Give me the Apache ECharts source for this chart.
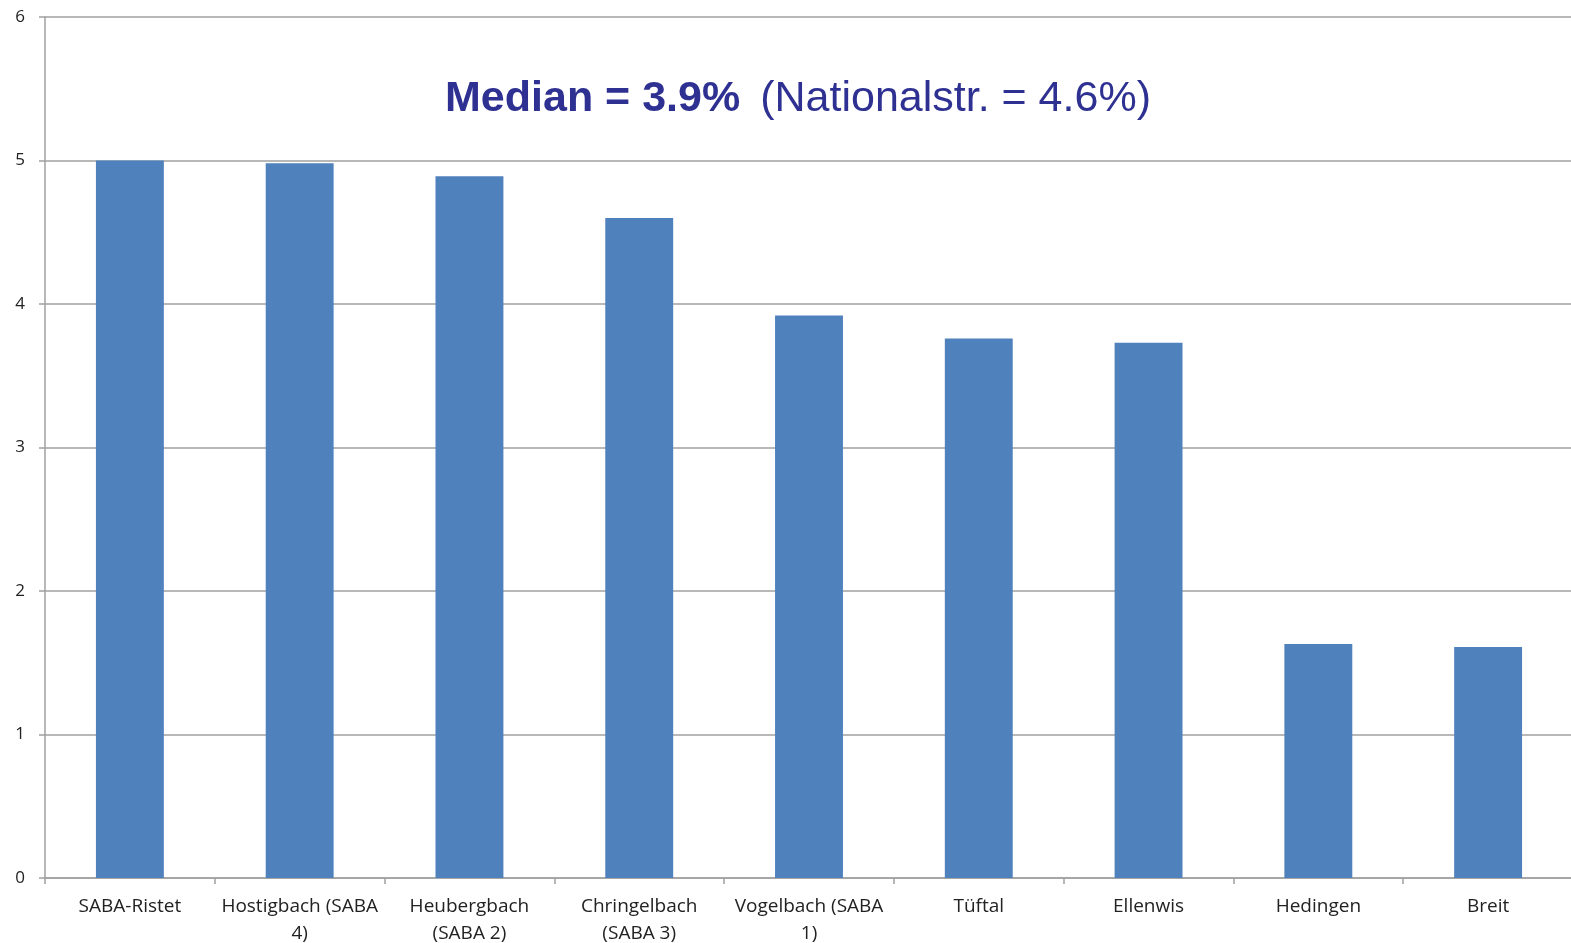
<!DOCTYPE html>
<html>
<head>
<meta charset="utf-8">
<script src="https://cdn.jsdelivr.net/npm/echarts@6/dist/echarts.min.js"></script>
<style>
  html, body { margin: 0; padding: 0; background: #fff; }
  #chart { width: 1571px; height: 943px; }
</style>
</head>
<body>
<div id="chart"></div>
<script>
// Sites (line breaks as printed under each bar)
const categories = [
  'SABA-Ristet',
  'Hostigbach (SABA\n4)',
  'Heubergbach\n(SABA 2)',
  'Chringelbach\n(SABA 3)',
  'Vogelbach (SABA\n1)',
  'Tüftal',
  'Ellenwis',
  'Hedingen',
  'Breit'
];
// Share per site, in percent
const values = [5.0, 4.98, 4.89, 4.60, 3.92, 3.76, 3.73, 1.63, 1.61];
const yTicks = [0, 1, 2, 3, 4, 5, 6];

const chart = echarts.init(document.getElementById('chart'));
chart.setOption({
  animation: false,
  backgroundColor: '#ffffff',
  title: {
    text: '{b|Median = 3.9%}{n|(Nationalstr. = 4.6%)}',
    left: 793,
    top: 73,
    textAlign: 'center',
    textStyle: {
      rich: {
        b: { fontFamily: 'Liberation Sans, Arial, sans-serif', fontSize: 43, fontWeight: 'bold', color: '#2e3192' },
        n: { fontFamily: 'Liberation Sans, Arial, sans-serif', fontSize: 43, fontWeight: 'normal', color: '#2e3192', padding: [0, 0, 0, 20] }
      }
    }
  },
  grid: { left: 45, right: -2, top: 17, bottom: 65, containLabel: false, outerBoundsMode: 'none' },
  xAxis: {
    type: 'category',
    data: categories,
    axisLine: { lineStyle: { color: '#a0a0a0', width: 1.5 } },
    axisTick: { show: true, length: 6, alignWithLabel: false, lineStyle: { color: '#a0a0a0', width: 1.5 } },
    axisLabel: {
      interval: 0,
      margin: 15,
      color: '#222',
      fontFamily: 'Open Sans, sans-serif',
      fontSize: 19,
      lineHeight: 27
    }
  },
  yAxis: {
    type: 'value',
    min: yTicks[0],
    max: yTicks[yTicks.length - 1],
    interval: 1,
    axisLine: { show: true, lineStyle: { color: '#a0a0a0', width: 1.5 } },
    axisTick: { show: true, length: 6, lineStyle: { color: '#a0a0a0', width: 1.5 } },
    splitLine: { show: true, lineStyle: { color: '#a0a0a0', width: 1.5 } },
    axisLabel: {
      margin: 20,
      color: '#222',
      fontFamily: 'Open Sans, sans-serif',
      fontSize: 17
    }
  },
  series: [{
    type: 'bar',
    data: values,
    barWidth: '40%',
    itemStyle: { color: '#4f81bd' }
  }]
});
</script>
</body>
</html>
